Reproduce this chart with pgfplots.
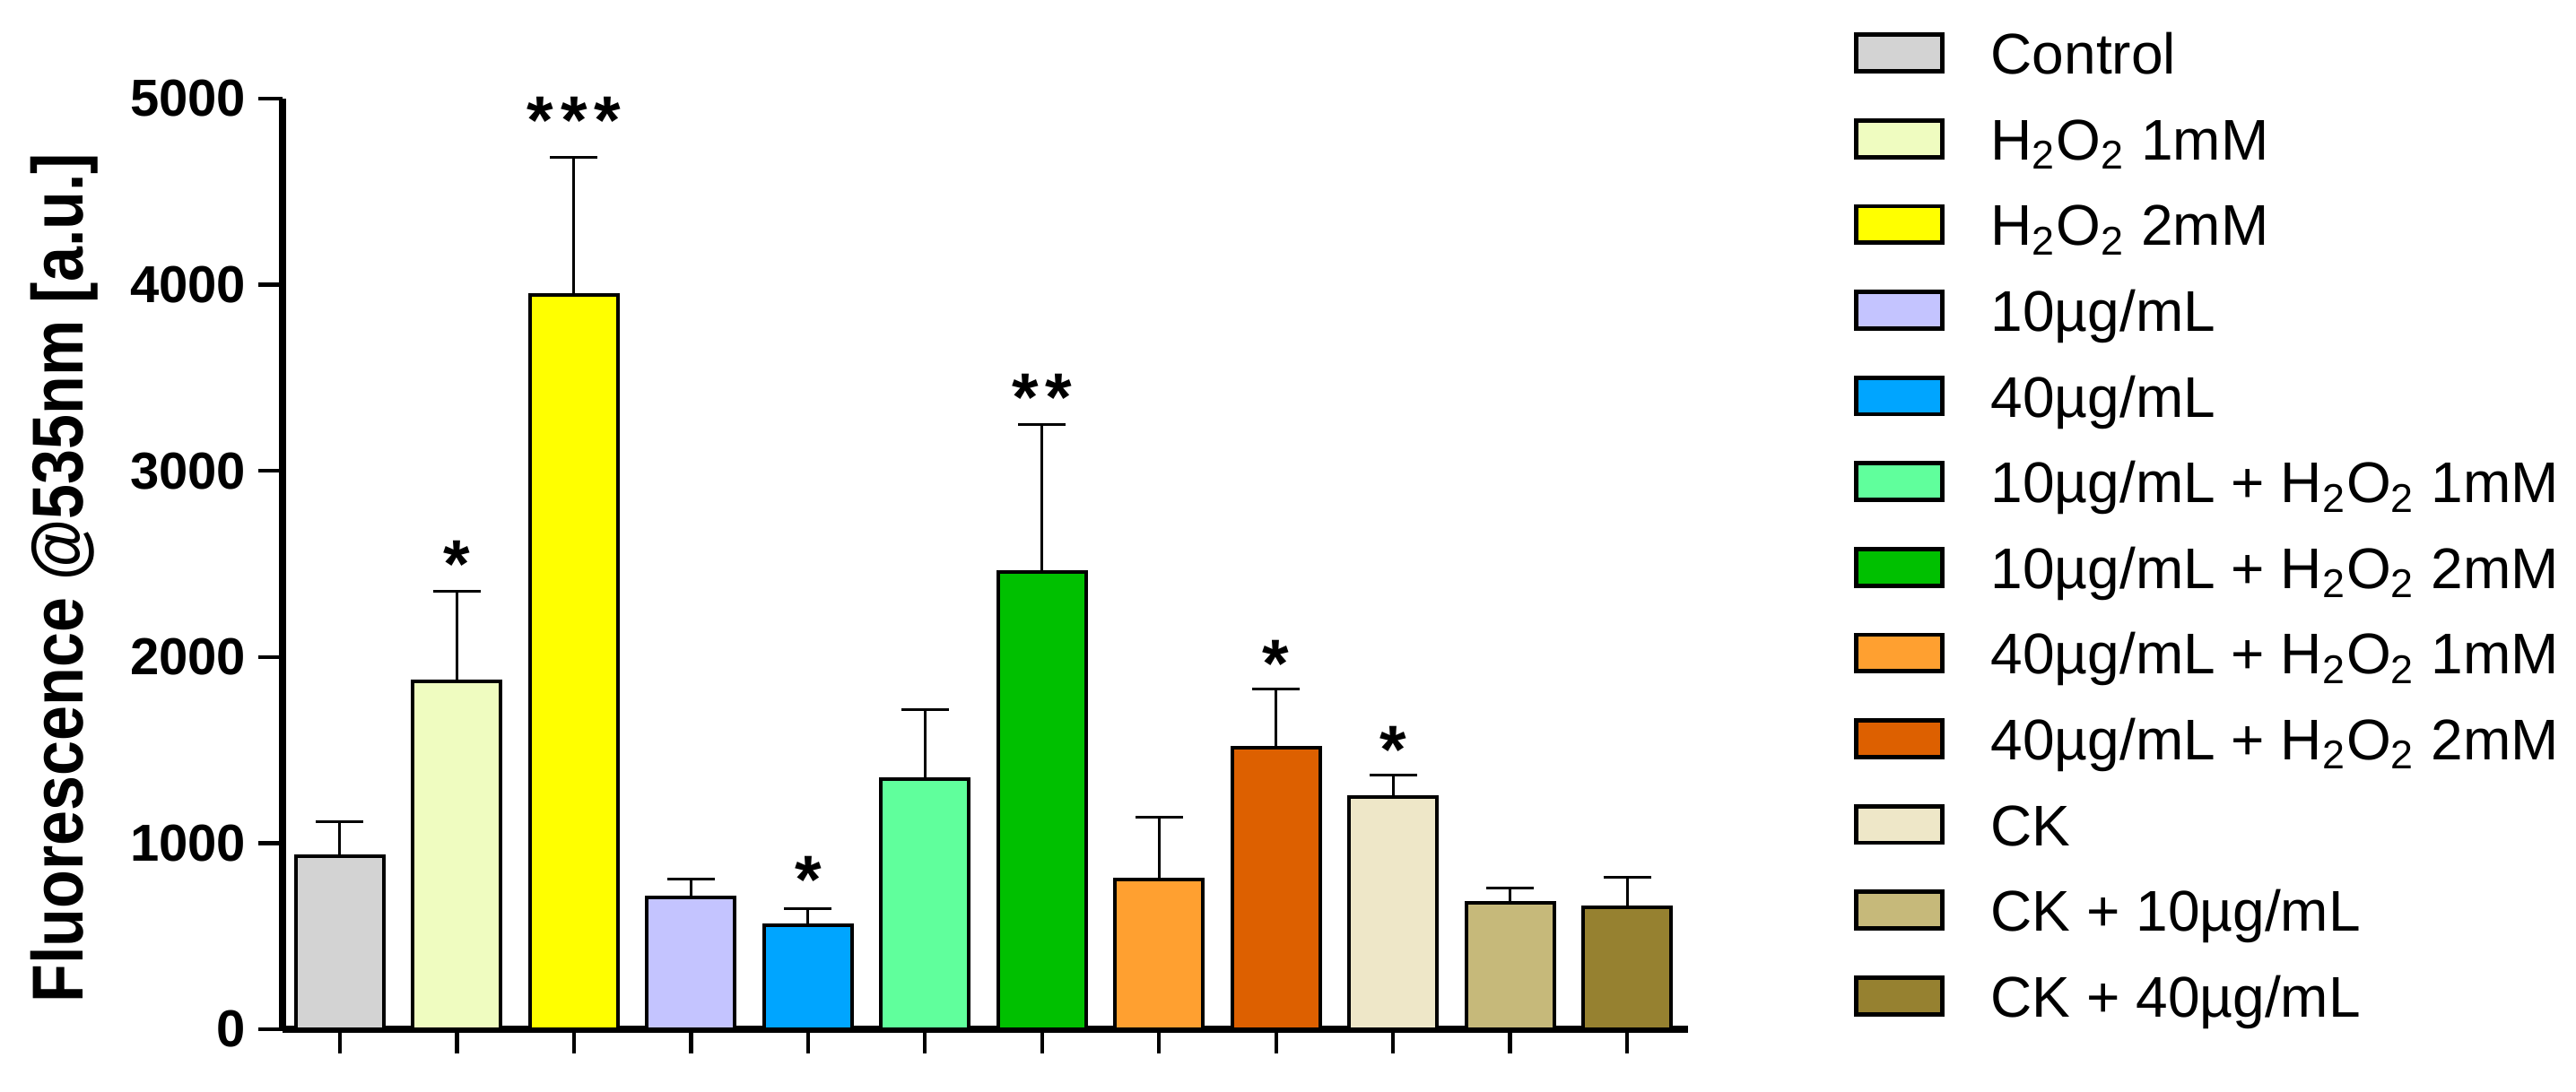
\documentclass[border=0pt]{standalone}
\usepackage{fontspec}
\setmainfont{Liberation Sans}
\usepackage{pgfplots}
\pgfplotsset{compat=1.18}

\definecolor{cCtrl}{HTML}{D3D3D3}
\definecolor{cHa}{HTML}{EFFCC0}
\definecolor{cHb}{HTML}{FFFF00}
\definecolor{cTen}{HTML}{C4C4FF}
\definecolor{cForty}{HTML}{00A5FF}
\definecolor{cTenA}{HTML}{60FF9C}
\definecolor{cTenB}{HTML}{00C000}
\definecolor{cFortyA}{HTML}{FFA030}
\definecolor{cFortyB}{HTML}{DD6000}
\definecolor{cCK}{HTML}{EEE7C8}
\definecolor{cCKa}{HTML}{C6B97A}
\definecolor{cCKb}{HTML}{968130}

\pgfplotsset{
  gpbar/.style={
    ybar, bar width=24.5pt, bar shift=0pt,
    draw=black, line width=1pt, fill=#1,
    legend image code/.code={\draw[##1, line width=1.2pt] (0pt,-3.2pt) rectangle (24pt,7pt);},
    /pgfplots/error bars/y dir=plus,
    /pgfplots/error bars/y explicit,
    /pgfplots/error bars/error bar style={line width=0.75pt, black},
    /pgfplots/error bars/error mark options={rotate=90, mark size=6.6pt, line width=0.75pt, black},
  },
}

\begin{document}
\begin{tikzpicture}
\begin{axis}[
  scale only axis,
  width=391.75pt, height=259.5pt,
  xmin=-0.49, xmax=11.52, ymin=0, ymax=5000,
  clip=false,
  axis x line=bottom, axis y line=left,
  axis line style={-, line width=1.8pt},
  xtick={0,...,11}, xticklabels={},
  ytick={0,1000,...,5000},
  tick align=outside, major tick length=6.7pt,
  tick style={line width=1.1pt, black},
  scaled y ticks=false,
  /pgf/number format/assume math mode=true,
  /pgf/number format/set thousands separator={},
  yticklabel style={font=\bfseries\fontsize{14.5}{16}\selectfont},
  ylabel={\scalebox{1}[1.15]{Fluorescence @535nm [a.u.]}},
  ylabel style={font=\bfseries\fontsize{17.5}{20}\selectfont,
    at={(axis description cs:-0.155,0.485)}, anchor=center},
  legend cell align=left,
  legend style={at={(1.118,1.0725)}, anchor=north west, draw=none, fill=none,
    inner sep=0pt, outer sep=0pt, row sep=7.9pt, column sep=13pt,
    nodes={inner sep=0pt, text height=12pt, text depth=4pt,
      font=\fontsize{16}{18}\selectfont}},
]
\addplot[gpbar=cCtrl]   coordinates {(0,930)  +- (0,186)};
\addlegendentry{Control}
\addplot[gpbar=cHa]     coordinates {(1,1869) +- (0,482)};
\addlegendentry{H\textsubscript{2}O\textsubscript{2} 1mM}
\addplot[gpbar=cHb]     coordinates {(2,3945) +- (0,738)};
\addlegendentry{H\textsubscript{2}O\textsubscript{2} 2mM}
\addplot[gpbar=cTen]    coordinates {(3,709)  +- (0,97)};
\addlegendentry{10µg/mL}
\addplot[gpbar=cForty]  coordinates {(4,560)  +- (0,86)};
\addlegendentry{40µg/mL}
\addplot[gpbar=cTenA]   coordinates {(5,1343) +- (0,373)};
\addlegendentry{10µg/mL + H\textsubscript{2}O\textsubscript{2} 1mM}
\addplot[gpbar=cTenB]   coordinates {(6,2455) +- (0,795)};
\addlegendentry{10µg/mL + H\textsubscript{2}O\textsubscript{2} 2mM}
\addplot[gpbar=cFortyA] coordinates {(7,806)  +- (0,332)};
\addlegendentry{40µg/mL + H\textsubscript{2}O\textsubscript{2} 1mM}
\addplot[gpbar=cFortyB] coordinates {(8,1515) +- (0,313)};
\addlegendentry{40µg/mL + H\textsubscript{2}O\textsubscript{2} 2mM}
\addplot[gpbar=cCK]     coordinates {(9,1250) +- (0,116)};
\addlegendentry{CK}
\addplot[gpbar=cCKa]    coordinates {(10,679) +- (0,82)};
\addlegendentry{CK + 10µg/mL}
\addplot[gpbar=cCKb]    coordinates {(11,653) +- (0,164)};
\addlegendentry{CK + 40µg/mL}

% significance stars
\addplot[forget plot, only marks, mark=none, nodes near coords,
  point meta=explicit symbolic,
  every node near coord/.append style={anchor=center, yshift=-3.5pt,
    font=\bfseries\fontsize{19}{19}\selectfont}]
  coordinates {
    (1,2567) [*]
    (2,4950) [{*\kern2pt*\kern2pt*}]
    (4,869)  [*]
    (6,3463) [{*\kern2pt*}]
    (8,2030) [*]
    (9,1567) [*]
  };

\coordinate (bbl) at (axis description cs:-0.201,-0.0674);
\coordinate (btr) at (axis description cs:1.6318,1.106);
\end{axis}
\pgfresetboundingbox
\useasboundingbox (bbl) rectangle (btr);
\end{tikzpicture}
\end{document}
